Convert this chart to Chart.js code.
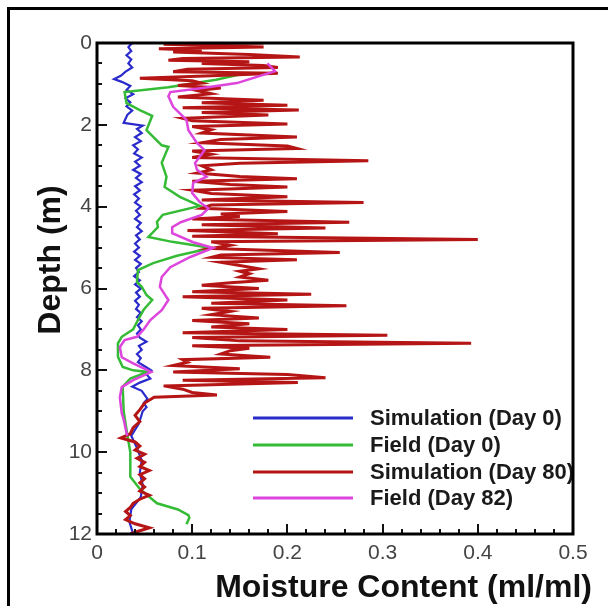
<!DOCTYPE html>
<html>
<head>
<meta charset="utf-8">
<script src="https://cdn.jsdelivr.net/npm/chart.js@4.4.1/dist/chart.umd.min.js"></script>
<style>
  body { margin: 0; background: #fff; }
  #wrap { position: relative; width: 608px; height: 606px; overflow: hidden; }
  #outer { position: absolute; left: 7px; top: 7px; width: 700px; height: 700px;
           border-left: 3px solid #000; border-top: 3px solid #000; }
  canvas { position: absolute; left: 0; top: 0; }
</style>
</head>
<body>
<div id="wrap">
  <div id="outer"></div>
  <canvas id="profileChart" width="608" height="606"></canvas>
</div>
<script>
// Perfis de umidade: profundidade (m) e teor de umidade (ml/ml)
const seriesLabels = ['Simulation (Day 0)', 'Field (Day 0)', 'Simulation (Day 80)', 'Field (Day 82)'];
const xTicks = [0, 0.1, 0.2, 0.3, 0.4, 0.5];
const yTicks = [0, 2, 4, 6, 8, 10, 12];

const simDay0Depth = [0, 0.1, 0.2, 0.3, 0.4, 0.5, 0.6, 0.7, 0.8, 0.88, 0.95, 1.05, 1.15, 1.25, 1.35, 1.45, 1.55, 1.65, 1.75, 1.85, 1.95,
  2.02, 2.1, 2.2, 2.3, 2.4, 2.5, 2.6, 2.7, 2.8, 2.9, 3.0, 3.1, 3.2, 3.3, 3.4, 3.5, 3.6, 3.7, 3.8, 3.9, 4.0, 4.1, 4.2, 4.3, 4.4,
  4.5, 4.6, 4.7, 4.8, 4.9, 5.0, 5.1, 5.2, 5.3, 5.4, 5.5, 5.6, 5.7, 5.8, 5.9, 6.0, 6.1, 6.2, 6.3, 6.4, 6.5, 6.6, 6.7, 6.8, 6.9,
  7.0, 7.1, 7.2, 7.3, 7.4, 7.5, 7.6, 7.7, 7.8, 7.9, 8.0, 8.1, 8.2, 8.3, 8.4, 8.5, 8.6, 8.7, 8.8, 8.9, 9.0,
  9.3, 9.6, 9.9, 10.2, 10.5, 10.8, 11.1, 11.4, 11.7, 12.0];
const simDay0Moisture = [0.037, 0.033, 0.036, 0.031, 0.036, 0.033, 0.037, 0.030, 0.025, 0.018, 0.026, 0.035, 0.031, 0.038, 0.030, 0.035, 0.031, 0.037, 0.032, 0.030, 0.028,
  0.048, 0.042, 0.047, 0.040, 0.046, 0.038, 0.043, 0.039, 0.047, 0.040, 0.045, 0.038, 0.046, 0.041, 0.047, 0.040, 0.045, 0.039, 0.044, 0.040, 0.046, 0.041, 0.045, 0.040, 0.046,
  0.042, 0.047, 0.041, 0.045, 0.040, 0.044, 0.039, 0.045, 0.040, 0.046, 0.041, 0.044, 0.039, 0.045, 0.040, 0.046, 0.041, 0.045, 0.040, 0.044, 0.041, 0.046, 0.042, 0.047, 0.043,
  0.046, 0.042, 0.045, 0.052, 0.044, 0.047, 0.042, 0.046, 0.043, 0.050, 0.057, 0.052, 0.056, 0.045, 0.037, 0.047, 0.050, 0.053, 0.049, 0.052, 0.048,
  0.044, 0.036, 0.042, 0.047, 0.045, 0.048, 0.046, 0.036, 0.034, 0.038];

const fieldDay0Depth = [0.73, 0.9, 1.08, 1.2, 1.47, 1.64, 1.78, 2.13, 2.27, 2.5, 2.54, 2.93, 3.27, 3.52, 3.76, 3.98, 4.2, 4.37, 4.5,
  4.74, 4.86, 5.01, 5.2, 5.38, 5.55, 5.84, 5.96, 6.16, 6.28, 6.52, 6.77, 7.0, 7.18, 7.34, 7.67, 7.92, 8.0, 8.04, 8.2, 8.4,
  9.0, 9.6, 10.0, 10.2, 10.6, 10.9, 11.25, 11.4, 11.54, 11.6, 11.76];
const fieldDay0Moisture = [0.158, 0.125, 0.075, 0.029, 0.031, 0.045, 0.058, 0.052, 0.058, 0.068, 0.075, 0.068, 0.073, 0.071, 0.087, 0.108, 0.069, 0.063, 0.064,
  0.054, 0.079, 0.12, 0.084, 0.059, 0.043, 0.042, 0.047, 0.052, 0.058, 0.049, 0.043, 0.038, 0.026, 0.022, 0.022, 0.027, 0.038, 0.053, 0.035, 0.027,
  0.028, 0.032, 0.035, 0.035, 0.035, 0.045, 0.063, 0.085, 0.096, 0.097, 0.094];

const simDay80Depth = [0.00, 0.03, 0.06, 0.10, 0.14, 0.18, 0.22, 0.28, 0.34, 0.38, 0.42, 0.46, 0.50, 0.55, 0.60, 0.64, 0.70, 0.74, 0.80, 0.86,
  0.92, 0.98, 1.04, 1.10, 1.16, 1.24, 1.32, 1.40, 1.46, 1.52, 1.58, 1.64, 1.70, 1.76, 1.84, 1.90, 1.98, 2.04, 2.12, 2.20,
  2.30, 2.36, 2.44, 2.52, 2.58, 2.64, 2.72, 2.80, 2.88, 2.94, 3.00, 3.10, 3.18, 3.26, 3.32, 3.38, 3.46, 3.52, 3.60, 3.68,
  3.76, 3.84, 3.90, 3.96, 4.04, 4.12, 4.18, 4.24, 4.30, 4.38, 4.44, 4.52, 4.58, 4.66, 4.72, 4.80, 4.86, 4.94, 5.02, 5.12,
  5.18, 5.24, 5.30, 5.36, 5.44, 5.52, 5.58, 5.64, 5.72, 5.80, 5.86, 5.92, 6.00, 6.08, 6.14, 6.20, 6.28, 6.36, 6.42, 6.48,
  6.56, 6.64, 6.72, 6.78, 6.86, 6.94, 7.00, 7.08, 7.14, 7.20, 7.28, 7.34, 7.40, 7.46, 7.52, 7.60, 7.68, 7.74, 7.80, 7.88,
  7.96, 8.04, 8.10, 8.18, 8.24, 8.30, 8.38, 8.46, 8.54, 8.60, 8.66, 8.80, 8.96, 9.10, 9.25, 9.40, 9.55, 9.65, 9.75, 9.85,
  9.95, 10.05, 10.15, 10.25, 10.35, 10.45, 10.55, 10.65, 10.75, 10.85, 10.95, 11.05, 11.15, 11.25, 11.35, 11.45, 11.55, 11.65, 11.75, 11.85,
  11.92, 12.00];
const simDay80Moisture = [0.175, 0.07, 0.12, 0.175, 0.065, 0.11, 0.08, 0.16, 0.213, 0.09, 0.075, 0.16, 0.11, 0.175, 0.19, 0.095, 0.08, 0.19, 0.12, 0.045,
  0.1, 0.11, 0.085, 0.13, 0.105, 0.12, 0.085, 0.175, 0.11, 0.2, 0.09, 0.212, 0.11, 0.18, 0.09, 0.1, 0.2, 0.1, 0.12, 0.11,
  0.21, 0.13, 0.11, 0.2, 0.21, 0.1, 0.12, 0.1, 0.285, 0.15, 0.11, 0.12, 0.105, 0.15, 0.21, 0.1, 0.14, 0.2, 0.1, 0.12,
  0.2, 0.11, 0.28, 0.12, 0.11, 0.2, 0.13, 0.15, 0.1, 0.265, 0.11, 0.24, 0.095, 0.19, 0.1, 0.40, 0.12, 0.14, 0.12, 0.255,
  0.13, 0.12, 0.21, 0.13, 0.15, 0.17, 0.15, 0.16, 0.15, 0.18, 0.14, 0.11, 0.17, 0.1, 0.225, 0.09, 0.2, 0.12, 0.262, 0.11,
  0.14, 0.12, 0.17, 0.10, 0.16, 0.12, 0.2, 0.09, 0.305, 0.1, 0.15, 0.393, 0.1, 0.16, 0.14, 0.13, 0.182, 0.09, 0.095, 0.08,
  0.15, 0.08, 0.2, 0.24, 0.09, 0.211, 0.07, 0.09, 0.1, 0.126, 0.06, 0.05, 0.045, 0.04, 0.045, 0.038, 0.035, 0.025, 0.04, 0.045,
  0.04, 0.05, 0.042, 0.05, 0.045, 0.055, 0.045, 0.05, 0.045, 0.05, 0.045, 0.055, 0.045, 0.038, 0.035, 0.03, 0.035, 0.03, 0.04, 0.055,
  0.045, 0.035];

const fieldDay82Depth = [0.5, 0.69, 0.98, 1.1, 1.2, 1.3, 1.56, 1.88, 2.13, 2.44, 2.62, 2.93, 3.1, 3.27, 3.42, 3.67, 3.89, 4.04, 4.2, 4.38,
  4.5, 4.65, 4.87, 5.01, 5.23, 5.48, 5.72, 5.96, 6.28, 6.53, 6.77, 7.0, 7.18, 7.26, 7.43, 7.68, 7.83, 7.95, 8.04, 8.24,
  8.41, 8.66, 9.05, 9.2, 9.53, 9.6];
const fieldDay82Moisture = [0.179, 0.187, 0.147, 0.111, 0.077, 0.075, 0.08, 0.094, 0.096, 0.105, 0.113, 0.103, 0.105, 0.115, 0.101, 0.1, 0.108, 0.117, 0.11, 0.088,
  0.079, 0.079, 0.101, 0.122, 0.098, 0.077, 0.068, 0.066, 0.075, 0.068, 0.056, 0.049, 0.042, 0.029, 0.024, 0.026, 0.038, 0.049, 0.057, 0.038,
  0.026, 0.024, 0.026, 0.028, 0.031, 0.032];

const lineColors = ['#2b2bcc', '#35bb35', '#b51515', '#dd45dd'];

function toPoints(depth, moisture) {
  return depth.map((d, i) => ({ x: moisture[i], y: d }));
}

// Molduras, marcas internas, títulos e legenda desenhados à mão
const decorPlugin = {
  id: 'decor',
  afterDatasetsDraw(chart) {
    const ctx = chart.ctx;
    const a = chart.chartArea;
    const xs = chart.scales.x, ys = chart.scales.y;

    // legenda dentro da área do gráfico
    ctx.save();
    ctx.beginPath();
    ctx.rect(a.left, a.top, a.right - a.left - 1, a.bottom - a.top);
    ctx.clip();
    const rowsY = [418, 445, 472, 498];
    ctx.font = 'bold 22px "Liberation Sans", Arial, sans-serif';
    ctx.textBaseline = 'middle';
    ctx.textAlign = 'left';
    seriesLabels.forEach((lab, i) => {
      ctx.strokeStyle = lineColors[i];
      ctx.lineWidth = 3;
      ctx.beginPath();
      ctx.moveTo(253, rowsY[i]);
      ctx.lineTo(353, rowsY[i]);
      ctx.stroke();
      ctx.fillStyle = '#1a1a1a';
      ctx.fillText(lab, 370, rowsY[i] + 1);
    });
    ctx.restore();

    // marcas para dentro
    ctx.save();
    ctx.strokeStyle = '#111';
    ctx.lineWidth = 2;
    for (let v = 0; v <= 12.001; v += 0.5) {
      const y = Math.round(ys.getPixelForValue(v));
      const len = (Math.abs(v % 2) < 0.01) ? 10 : 5;
      ctx.beginPath();
      ctx.moveTo(a.left, y);
      ctx.lineTo(a.left + len, y);
      ctx.stroke();
    }
    for (let k = 0; k <= 25; k++) {
      const x = Math.round(xs.getPixelForValue(k * 0.02));
      const len = (k % 5 === 0) ? 10 : 5;
      ctx.beginPath();
      ctx.moveTo(x, a.bottom);
      ctx.lineTo(x, a.bottom - len);
      ctx.stroke();
    }
    // moldura do gráfico
    ctx.lineWidth = 3;
    ctx.strokeStyle = '#000';
    ctx.strokeRect(a.left, a.top, a.right - a.left, a.bottom - a.top);

    // títulos dos eixos
    ctx.fillStyle = '#111';
    ctx.font = 'bold 32px "Liberation Sans", Arial, sans-serif';
    ctx.textAlign = 'right';
    ctx.textBaseline = 'alphabetic';
    ctx.fillText('Moisture Content (ml/ml)', 592, 597);
    ctx.translate(60, 260);
    ctx.rotate(-Math.PI / 2);
    ctx.textAlign = 'center';
    ctx.fillText('Depth (m)', 0, 0);
    ctx.restore();
  }
};

const ctx1 = document.getElementById('profileChart').getContext('2d');
new Chart(ctx1, {
  type: 'scatter',
  data: {
    datasets: [
      { label: seriesLabels[0], data: toPoints(simDay0Depth, simDay0Moisture), borderColor: lineColors[0], borderWidth: 2.2, order: 4 },
      { label: seriesLabels[1], data: toPoints(fieldDay0Depth, fieldDay0Moisture), borderColor: lineColors[1], borderWidth: 2.5, order: 3 },
      { label: seriesLabels[2], data: toPoints(simDay80Depth, simDay80Moisture), borderColor: lineColors[2], borderWidth: 3, order: 2 },
      { label: seriesLabels[3], data: toPoints(fieldDay82Depth, fieldDay82Moisture), borderColor: lineColors[3], borderWidth: 2.5, order: 1 }
    ].map(ds => Object.assign(ds, { showLine: true, pointRadius: 0, tension: 0, fill: false }))
  },
  plugins: [decorPlugin],
  options: {
    responsive: false,
    animation: false,
    layout: { padding: { left: 0, top: 43, right: 35, bottom: 0 } },
    plugins: { legend: { display: false }, tooltip: { enabled: false } },
    scales: {
      x: {
        type: 'linear', min: 0, max: 0.5,
        afterFit: s => { s.height = 72; },
        afterBuildTicks: s => { s.ticks = xTicks.map(v => ({ value: v })); },
        grid: { display: false, drawTicks: false },
        border: { display: false },
        ticks: { color: '#444', padding: 7, font: { size: 21, family: '"Liberation Sans", Arial, sans-serif' },
                 callback: v => String(v) }
      },
      y: {
        type: 'linear', min: 0, max: 12, reverse: true,
        afterFit: s => { s.width = 97; },
        afterBuildTicks: s => { s.ticks = yTicks.map(v => ({ value: v })); },
        grid: { display: false, drawTicks: false },
        border: { display: false },
        ticks: { color: '#444', padding: 5, font: { size: 21, family: '"Liberation Sans", Arial, sans-serif' } }
      }
    }
  }
});
</script>
</body>
</html>
